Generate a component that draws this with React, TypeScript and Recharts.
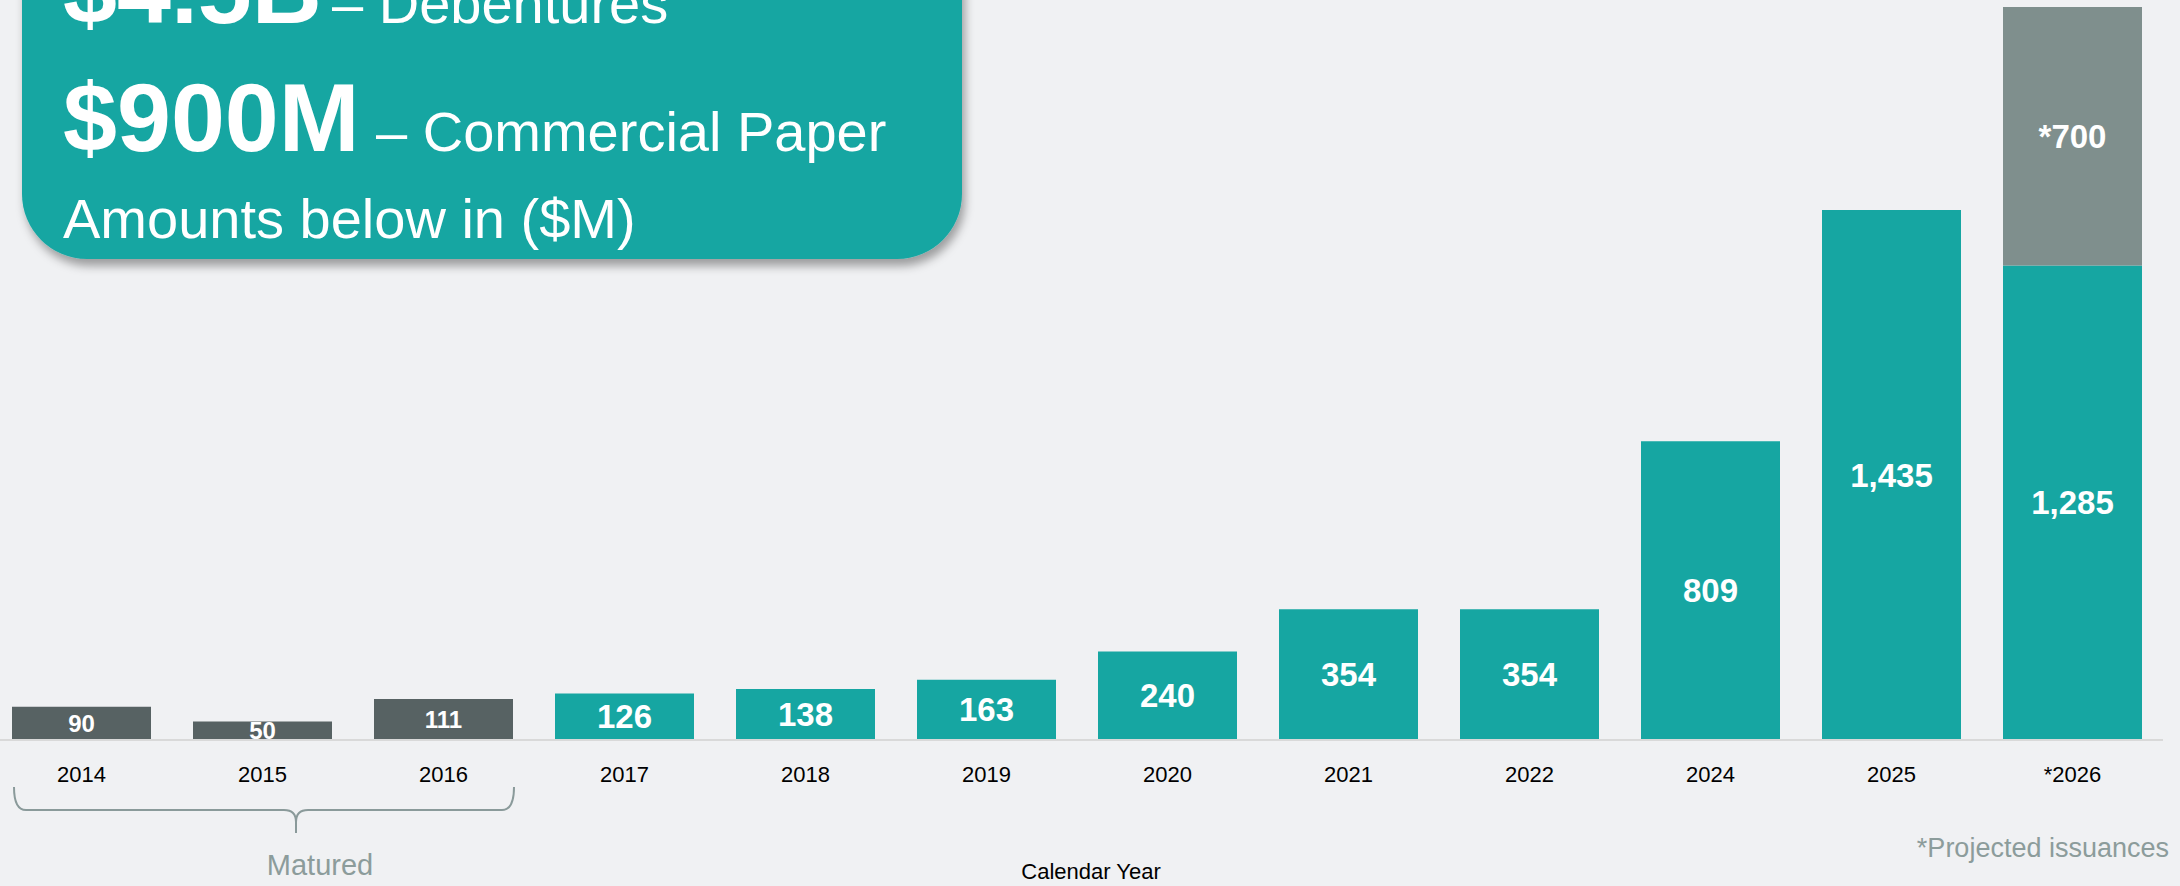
import React from "react";
import { BarChart, Bar, XAxis, YAxis, Cell, LabelList } from "recharts";

const YEARS = ["2014", "2015", "2016", "2017", "2018", "2019", "2020", "2021", "2022", "2024", "2025", "*2026"];
const ISSUED = [90, 50, 111, 126, 138, 163, 240, 354, 354, 809, 1435, 1285];
const PROJECTED = [0, 0, 0, 0, 0, 0, 0, 0, 0, 0, 0, 700];
const MATURED = [true, true, true, false, false, false, false, false, false, false, false, false];

const TEAL = "#16a6a2";
const DARK = "#576263";
const PROJ = "#7f8f8d";
const BG = "#f0f1f3";
const FONT = "'Liberation Sans', Arial, sans-serif";

const data = YEARS.map((year, i) => ({
  year,
  issued: ISSUED[i],
  projected: PROJECTED[i],
  matured: MATURED[i],
}));

const fmt = (v: number) => v.toLocaleString("en-US");

function IssuedLabel(props: any) {
  const { x, y, width, height, value, index } = props;
  const small = MATURED[index];
  return (
    <text
      x={x + width / 2}
      y={y + height / 2}
      textAnchor="middle"
      dominantBaseline="central"
      fill="#ffffff"
      fontFamily={FONT}
      fontWeight="bold"
      fontSize={small ? 24 : 33}
    >
      {fmt(value)}
    </text>
  );
}

function ProjectedLabel(props: any) {
  const { x, y, width, height, value } = props;
  if (!value) return null;
  return (
    <text
      x={x + width / 2}
      y={y + height / 2}
      textAnchor="middle"
      dominantBaseline="central"
      fill="#ffffff"
      fontFamily={FONT}
      fontWeight="bold"
      fontSize={33}
    >
      {"*" + fmt(value)}
    </text>
  );
}

export default function App() {
  return (
    <div
      style={{
        position: "absolute",
        left: 0,
        top: 0,
        width: 2180,
        height: 886,
        background: BG,
        overflow: "hidden",
      }}
    >
      <div style={{ position: "absolute", left: -9, top: 0 }}>
        <BarChart
          width={2172}
          height={886}
          data={data}
          margin={{ top: 7, right: 0, bottom: 116, left: 0 }}
          barCategoryGap={21}
        >
          <XAxis
            dataKey="year"
            height={30}
            axisLine={{ stroke: "#d9d9d9", strokeWidth: 2 }}
            tickLine={false}
            tickMargin={20}
            tick={{ fill: "#000000", fontSize: 22, fontFamily: FONT }}
            interval={0}
          />
          <YAxis hide domain={[0, "dataMax"]} />
          <Bar dataKey="issued" stackId="a" isAnimationActive={false}>
            {data.map((d, i) => (
              <Cell key={i} fill={d.matured ? DARK : TEAL} />
            ))}
            <LabelList dataKey="issued" content={IssuedLabel} />
          </Bar>
          <Bar dataKey="projected" stackId="a" fill={PROJ} isAnimationActive={false}>
            <LabelList dataKey="projected" content={ProjectedLabel} />
          </Bar>
        </BarChart>
      </div>

      <svg
        width={2180}
        height={886}
        style={{ position: "absolute", left: 0, top: 0, pointerEvents: "none" }}
      >
        <defs>
          <filter id="shadow" x="-10%" y="-10%" width="120%" height="130%">
            <feDropShadow dx="3" dy="7" stdDeviation="5" floodColor="#000" floodOpacity="0.35" />
          </filter>
        </defs>
        <rect x={22} y={-80} width={940} height={339} rx={65} ry={65} fill={TEAL} filter="url(#shadow)" />
        <g fontFamily={FONT} fill="#ffffff">
          <text x={63} y={23}>
            <tspan fontWeight="bold" fontSize={97}>$4.5B</tspan>
          </text>
          <text x={332} y={23} fontSize={56}>– Debentures</text>
          <text x={63} y={151}>
            <tspan fontWeight="bold" fontSize={97}>$900M</tspan>
          </text>
          <text x={376} y={151} fontSize={56}>– Commercial Paper</text>
          <text x={63} y={238} fontSize={56}>Amounts below in ($M)</text>
        </g>

        <path
          d="M14,787 Q14,810 26,810 L284,810 Q296,810 296,822 L296,833 M296,822 Q296,810 308,810 L502,810 Q514,810 514,787"
          fill="none"
          stroke="#8a9a9a"
          strokeWidth={2}
        />
        <text x={320} y={875} textAnchor="middle" fontFamily={FONT} fontSize={29} fill="#8c9c9b">
          Matured
        </text>
        <text x={1091} y={879} textAnchor="middle" fontFamily={FONT} fontSize={22} fill="#000000">
          Calendar Year
        </text>
        <text x={2169} y={857} textAnchor="end" fontFamily={FONT} fontSize={27} fill="#8c9c9b">
          *Projected issuances
        </text>
      </svg>
    </div>
  );
}
